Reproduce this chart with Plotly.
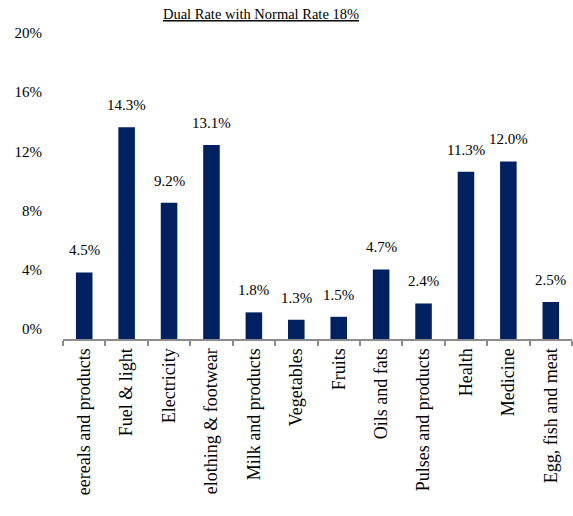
import plotly.graph_objects as go

categories = ["eereals and products", "Fuel & light", "Electricity", "elothing & footwear",
              "Milk and products", "Vegetables", "Fruits", "Oils and fats",
              "Pulses and products", "Health", "Medicine", "Egg, fish and meat"]
values = [4.5, 14.3, 9.2, 13.1, 1.8, 1.3, 1.5, 4.7, 2.4, 11.3, 12.0, 2.5]
y_ticks = [0, 4, 8, 12, 16, 20]
y_tick_labels = ["0%", "4%", "8%", "12%", "16%", "20%"]

FONT = "Liberation Serif"
BAR_COLOR = "#002060"

fig = go.Figure()
fig.add_trace(go.Bar(
    x=categories, y=values, marker_color=BAR_COLOR, marker_line_width=0,
    hoverinfo="skip",
))

for c, v in zip(categories, values):
    fig.add_annotation(x=c, y=v, text=f"{v:.1f}%", showarrow=False,
                       yanchor="middle", yshift=22,
                       font=dict(family=FONT, size=15, color="#000000"))

fig.update_layout(
    width=573, height=516,
    margin=dict(l=63, r=1, t=43, b=177, autoexpand=False),
    paper_bgcolor="white", plot_bgcolor="white",
    bargap=0.61,
    showlegend=False,
    title=dict(text="<u>Dual Rate with Normal Rate 18%</u>", x=261/573, xanchor="center",
               y=1 - 14/516, yanchor="middle", automargin=False,
               font=dict(family=FONT, size=14.5, color="#000000")),
    font=dict(family=FONT, color="#000000"),
)
fig.update_xaxes(
    automargin=False,
    showline=True, linecolor="#8c8c8c", linewidth=2,
    ticks="outside", tickson="boundaries", ticklen=5, tickcolor="#8c8c8c", tickwidth=2,
    tickangle=-90, tickfont=dict(family=FONT, size=18, color="#000000"),
    showgrid=False, zeroline=False,
)
fig.update_yaxes(
    automargin=False,
    range=[0, 20], tickvals=y_ticks, ticktext=y_tick_labels,
    showgrid=False, zeroline=False, showline=False,
    ticks="", ticklabelstandoff=20, ticklabelshift=-10,
    tickfont=dict(family=FONT, size=15, color="#000000"),
)

fig.write_html("out.html", config={"displayModeBar": False},
               post_script="document.body.style.margin='0px';")
